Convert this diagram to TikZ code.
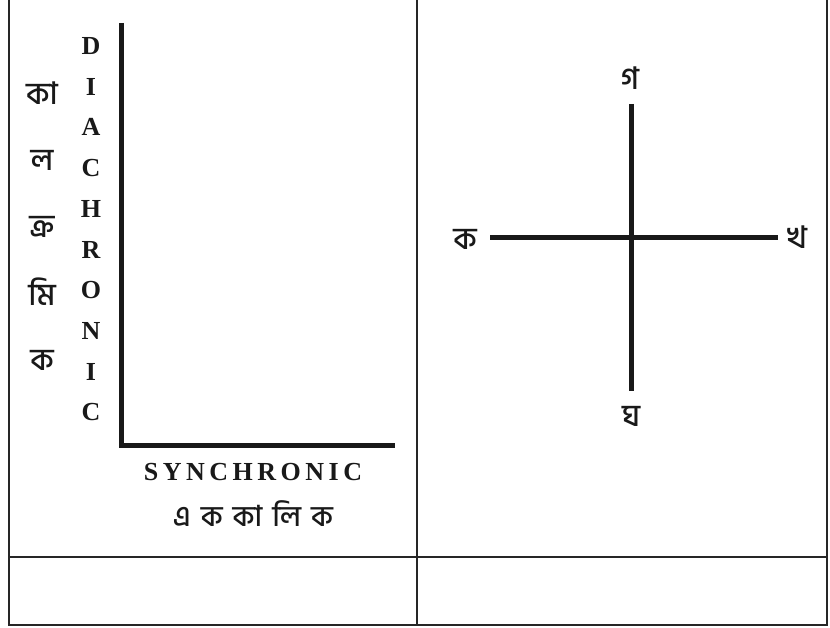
\documentclass[tikz,border=0pt]{standalone}
\usepackage{fontspec}
\setmainfont{Liberation Serif}
\newfontfamily\bn[Script=Bengali,UprightFont=* Medium]{Hind Siliguri}
\begin{document}
\begin{tikzpicture}[x=1pt,y=-1pt,
  frame/.style={line width=1.6pt, draw=black!85},
  axisline/.style={line width=5pt, draw=black!90, line join=miter},
  latin/.style={font=\fontsize{26}{26}\selectfont\bfseries, inner sep=0pt, text=black!90},
  bangla/.style={font=\bn\fontsize{31}{31}\selectfont, inner sep=0pt, text=black!90},
  banglasm/.style={font=\bn\fontsize{29}{29}\selectfont, inner sep=0pt, text=black!90}]
\useasboundingbox (0,0) rectangle (830,628);
% frame
\coordinate (lt) at (9,0);   \coordinate (lb) at (9,625);
\coordinate (mt) at (417,0); \coordinate (mb) at (417,625);
\coordinate (rt) at (827,0); \coordinate (rb) at (827,625);
\coordinate (hl) at (9,557); \coordinate (hr) at (827,557);
\draw[frame] (lt) -- (lb) -- (rb) -- (rt);
\draw[frame] (mt) -- (mb);
\draw[frame] (hl) -- (hr);
% left axes
\coordinate (dtop) at (121,23);
\coordinate (orig) at (121,445);
\coordinate (send) at (395,445);
\draw[axisline] (dtop) -- (orig) -- (send);
% DIACHRONIC
\foreach \ch [count=\i] in {D,I,A,C,H,R,O,N,I,C} {
  \node[latin] (dia\i) at (91, 46+40.7*\i-40.7) {\ch};
}
% Bengali column
\node[bangla] (b1) at (42,93) {কা};
\node[bangla] (b2) at (42,160) {ল};
\node[bangla] (b3) at (42,227) {ক্র};
\node[bangla] (b4) at (42,292) {মি};
\node[bangla] (b5) at (42,360) {ক};
% SYNCHRONIC
\node[latin] (syn) at (253,472) {S\kern4.5pt Y\kern4.5pt N\kern4.5pt C\kern4.5pt H\kern4.5pt R\kern4.5pt O\kern4.5pt N\kern4.5pt I\kern4.5pt C};
\node[banglasm] (ekk) at (253,514) {এ\kern10pt ক\kern10pt কা\kern10pt লি\kern10pt ক};
% cross
\coordinate (ctop) at (631,104);
\coordinate (cbot) at (631,391);
\coordinate (cl) at (490,238);
\coordinate (cr) at (778,238);
\draw[axisline] (ctop) -- (cbot);
\draw[axisline] (cl) -- (cr);
\node[bangla] (ga) at (630,78) {গ};
\node[bangla] (ka) at (465,239) {ক};
\node[bangla] (kha) at (797,237) {খ};
\node[bangla] (gha) at (631,416) {ঘ};
\end{tikzpicture}
\end{document}
